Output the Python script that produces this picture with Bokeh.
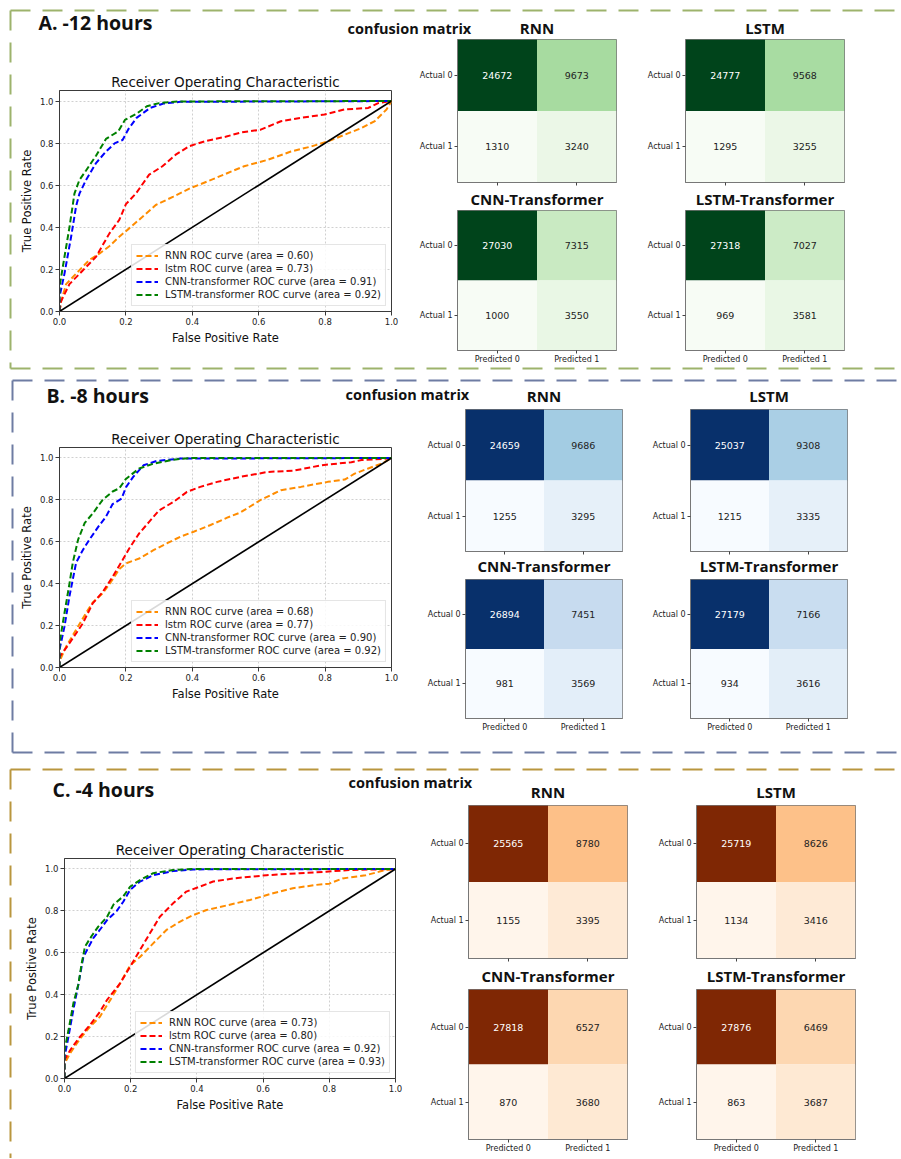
import numpy as np
from bokeh.plotting import figure
from bokeh.models import (Range1d, FactorRange, FixedTicker, PrintfTickFormatter,
                          GridBox, Column, ColumnDataSource, LinearColorMapper)
from bokeh.palettes import Greens9, Blues9, Oranges9
from bokeh.core.properties import value
from bokeh.embed import file_html
from bokeh.resources import INLINE

# ---------------------------------------------------------------- data
panel_keys = ["A", "B", "C"]
panel_titles = ["A. -12 hours", "B. -8 hours", "C. -4 hours"]
cm_header = "confusion matrix"
roc_title = "Receiver Operating Characteristic"
model_names = ["RNN", "lstm", "CNN-transformer", "LSTM-transformer"]
cm_titles = ["RNN", "LSTM", "CNN-Transformer", "LSTM-Transformer"]
pred_labels = ["Predicted 0", "Predicted 1"]
actual_labels = ["Actual 0", "Actual 1"]
tick_values = [0.0, 0.2, 0.4, 0.6, 0.8, 1.0]
diag = [0.0, 1.0]

auc_A = [0.60, 0.73, 0.91, 0.92]
auc_B = [0.68, 0.77, 0.90, 0.92]
auc_C = [0.73, 0.80, 0.92, 0.93]

# panel A (-12 h)
A_rnn_fpr = [0, 0.005, 0.02, 0.05, 0.09, 0.12, 0.15, 0.18, 0.21, 0.25, 0.29, 0.343, 0.394, 0.444, 0.505, 0.556, 0.626, 0.697, 0.758, 0.808, 0.859, 0.91, 0.95, 0.985, 1.0]
A_rnn_tpr = [0, 0.05, 0.13, 0.18, 0.245, 0.275, 0.31, 0.355, 0.395, 0.45, 0.506, 0.546, 0.586, 0.617, 0.657, 0.69, 0.72, 0.76, 0.784, 0.808, 0.84, 0.872, 0.905, 0.96, 1.0]
A_lstm_fpr = [0, 0.005, 0.03, 0.07, 0.11, 0.15, 0.18, 0.2, 0.23, 0.27, 0.31, 0.35, 0.39, 0.44, 0.5, 0.545, 0.606, 0.667, 0.727, 0.798, 0.859, 0.93, 0.96, 1.0]
A_lstm_tpr = [0, 0.05, 0.13, 0.195, 0.26, 0.37, 0.435, 0.51, 0.56, 0.65, 0.69, 0.745, 0.785, 0.81, 0.83, 0.85, 0.864, 0.904, 0.92, 0.936, 0.96, 0.967, 0.99, 1.0]
A_cnnt_fpr = [0, 0, 0.015, 0.035, 0.05, 0.06, 0.08, 0.11, 0.14, 0.167, 0.19, 0.207, 0.232, 0.273, 0.313, 0.364, 1.0]
A_cnnt_tpr = [0, 0.07, 0.18, 0.355, 0.50, 0.56, 0.625, 0.705, 0.76, 0.80, 0.815, 0.865, 0.92, 0.967, 0.988, 0.996, 1.0]
A_lstmt_fpr = [0, 0, 0.015, 0.03, 0.045, 0.06, 0.08, 0.11, 0.14, 0.177, 0.197, 0.232, 0.263, 0.30, 0.36, 1.0]
A_lstmt_tpr = [0, 0.116, 0.26, 0.40, 0.56, 0.625, 0.67, 0.74, 0.82, 0.856, 0.91, 0.94, 0.975, 0.99, 0.998, 1.0]

# panel B (-8 h)
B_rnn_fpr = [0, 0, 0.02, 0.05, 0.08, 0.1, 0.13, 0.16, 0.18, 0.2, 0.24, 0.283, 0.323, 0.364, 0.404, 0.455, 0.505, 0.545, 0.606, 0.667, 0.727, 0.808, 0.859, 0.889, 0.93, 0.97, 1.0]
B_rnn_tpr = [0, 0.03, 0.1, 0.18, 0.26, 0.31, 0.354, 0.42, 0.47, 0.497, 0.52, 0.56, 0.592, 0.624, 0.648, 0.68, 0.715, 0.74, 0.80, 0.846, 0.862, 0.886, 0.897, 0.925, 0.95, 0.973, 1.0]
B_lstm_fpr = [0, 0, 0.03, 0.07, 0.1, 0.13, 0.16, 0.19, 0.21, 0.24, 0.27, 0.3, 0.343, 0.384, 0.424, 0.475, 0.545, 0.626, 0.707, 0.788, 0.879, 0.91, 0.99, 1.0]
B_lstm_tpr = [0, 0.05, 0.116, 0.21, 0.306, 0.36, 0.433, 0.513, 0.568, 0.64, 0.695, 0.75, 0.79, 0.838, 0.862, 0.886, 0.91, 0.933, 0.94, 0.965, 0.98, 0.99, 0.997, 1.0]
B_cnnt_fpr = [0, 0, 0.015, 0.03, 0.05, 0.07, 0.09, 0.116, 0.14, 0.16, 0.187, 0.2, 0.222, 0.253, 0.293, 0.364, 1.0]
B_cnnt_tpr = [0, 0.085, 0.195, 0.34, 0.50, 0.56, 0.61, 0.67, 0.72, 0.78, 0.806, 0.86, 0.91, 0.965, 0.986, 0.997, 1.0]
B_lstmt_fpr = [0, 0, 0.015, 0.03, 0.04, 0.056, 0.076, 0.1, 0.13, 0.16, 0.18, 0.2, 0.24, 0.283, 0.343, 0.4, 1.0]
B_lstmt_tpr = [0, 0.116, 0.26, 0.40, 0.50, 0.61, 0.69, 0.735, 0.80, 0.84, 0.855, 0.9, 0.95, 0.973, 0.992, 1.0, 1.0]

# panel C (-4 h)
C_rnn_fpr = [0, 0, 0.017, 0.047, 0.077, 0.107, 0.138, 0.168, 0.198, 0.228, 0.268, 0.308, 0.348, 0.389, 0.429, 0.49, 0.56, 0.63, 0.69, 0.76, 0.8, 0.84, 0.91, 0.97, 1.0]
C_rnn_tpr = [0, 0.07, 0.12, 0.19, 0.247, 0.295, 0.374, 0.454, 0.54, 0.58, 0.645, 0.709, 0.748, 0.78, 0.804, 0.826, 0.852, 0.884, 0.908, 0.924, 0.93, 0.955, 0.97, 0.995, 1.0]
C_lstm_fpr = [0, 0, 0.017, 0.047, 0.077, 0.107, 0.128, 0.168, 0.198, 0.228, 0.258, 0.288, 0.328, 0.368, 0.409, 0.449, 0.51, 0.61, 0.71, 0.79, 0.86, 1.0]
C_lstm_tpr = [0, 0.088, 0.135, 0.2, 0.255, 0.318, 0.374, 0.454, 0.533, 0.613, 0.693, 0.772, 0.836, 0.892, 0.916, 0.94, 0.955, 0.97, 0.98, 0.987, 0.995, 1.0]
C_cnnt_fpr = [0, 0, 0.012, 0.027, 0.042, 0.057, 0.067, 0.087, 0.107, 0.128, 0.158, 0.178, 0.198, 0.228, 0.268, 0.328, 0.389, 1.0]
C_cnnt_tpr = [0, 0.1, 0.2, 0.33, 0.45, 0.58, 0.61, 0.67, 0.71, 0.755, 0.80, 0.845, 0.9, 0.94, 0.97, 0.99, 0.998, 1.0]
C_lstmt_fpr = [0, 0, 0.012, 0.027, 0.042, 0.052, 0.062, 0.082, 0.102, 0.128, 0.148, 0.178, 0.198, 0.228, 0.268, 0.328, 0.389, 1.0]
C_lstmt_tpr = [0, 0.135, 0.23, 0.36, 0.45, 0.55, 0.63, 0.68, 0.725, 0.77, 0.83, 0.87, 0.915, 0.947, 0.98, 0.995, 1.0, 1.0]

# confusion matrices: [TN, FP, FN, TP] for RNN, LSTM, CNN-Transformer, LSTM-Transformer
cm_A = [[24672, 9673, 1310, 3240], [24777, 9568, 1295, 3255],
        [27030, 7315, 1000, 3550], [27318, 7027, 969, 3581]]
cm_B = [[24659, 9686, 1255, 3295], [25037, 9308, 1215, 3335],
        [26894, 7451, 981, 3569], [27179, 7166, 934, 3616]]
cm_C = [[25565, 8780, 1155, 3395], [25719, 8626, 1134, 3416],
        [27818, 6527, 870, 3680], [27876, 6469, 863, 3687]]

roc_data = {
    "A": [(A_rnn_fpr, A_rnn_tpr), (A_lstm_fpr, A_lstm_tpr), (A_cnnt_fpr, A_cnnt_tpr), (A_lstmt_fpr, A_lstmt_tpr)],
    "B": [(B_rnn_fpr, B_rnn_tpr), (B_lstm_fpr, B_lstm_tpr), (B_cnnt_fpr, B_cnnt_tpr), (B_lstmt_fpr, B_lstmt_tpr)],
    "C": [(C_rnn_fpr, C_rnn_tpr), (C_lstm_fpr, C_lstm_tpr), (C_cnnt_fpr, C_cnnt_tpr), (C_lstmt_fpr, C_lstmt_tpr)],
}
auc_data = {"A": auc_A, "B": auc_B, "C": auc_C}
cm_data = {"A": cm_A, "B": cm_B, "C": cm_C}

# ---------------------------------------------------------------- styling / layout
curve_colors = ["#ff8c00", "#ff0000", "#0000ff", "#008000"]
panel_colors = {"A": "#9db36c", "B": "#6e7ca3", "C": "#b9963e"}


def ramp(p9):
    cols = list(p9)
    lum = [int(c[1:3], 16) + int(c[3:5], 16) + int(c[5:7], 16) for c in cols]
    if lum[0] < lum[-1]:
        cols = cols[::-1]
    rgb = np.array([[int(c[i:i + 2], 16) for i in (1, 3, 5)] for c in cols], float)
    t9 = np.linspace(0, 1, len(cols))
    t = np.linspace(0, 1, 256)
    out = []
    for tt in t:
        r, g, b = (np.interp(tt, t9, rgb[:, k]) for k in range(3))
        out.append("#%02x%02x%02x" % (int(round(r)), int(round(g)), int(round(b))))
    return out


cmaps = {"A": ramp(Greens9), "B": ramp(Blues9), "C": ramp(Oranges9)}

layout_spec = {
    "A": dict(border=(10, 10, 368), head=(38, 22, 347, 27.5), roc=(59, 90, 332, 221), roc_gap=9,
              cm_x=(457, 685), cm_w=159, cm_y=(39, 210), cm_h=143, cm_gap=13,
              toff=(4, 13, -5, -3)),
    "B": dict(border=(380, 12, 752), head=(46, 395, 345, 393.5), roc=(59, 447, 332, 220), roc_gap=10,
              cm_x=(465, 690), cm_w=157, cm_y=(409, 579), cm_h=142, cm_gap=16.5,
              toff=(-1, 8, -4, 8)),
    "C": dict(border=(769, 10, None), head=(52, 789, 348, 782), roc=(64, 858, 331, 220), roc_gap=10,
              cm_x=(468, 696), cm_w=159, cm_y=(805, 989), cm_h=153, cm_gap=16.5,
              toff=(-4, -6, -17, -1)),
}

MAT = "DejaVu Sans"
BOLD = "Open Sans"
ORIGIN = 0  # page offset of the shared layout cell


def place(fig, left, top):
    """wrap a figure so that it sits at page position (left, top) inside the shared cell"""
    return Column(children=[fig], margin=(top - ORIGIN, 0, 0, left - ORIGIN))


# ---------------------------------------------------------------- background
BG_W, BG_H = 900, 1158
bg = figure(width=BG_W, height=BG_H, x_range=Range1d(0, BG_W), y_range=Range1d(BG_H, 0),
            x_axis_type=None, y_axis_type=None, toolbar_location=None, output_backend="svg",
            min_border_left=0, min_border_right=0, min_border_top=0, min_border_bottom=0)
bg.grid.visible = False
bg.outline_line_color = None
bg.border_fill_color = "white"
bg.background_fill_color = "white"

for key, ptitle in zip(panel_keys, panel_titles):
    sp = layout_spec[key]
    top, left, bottom = sp["border"]
    col = panel_colors[key]
    bg.line([left, 905], [top, top], line_color=col, line_width=2, line_dash="20 12")
    ybot = bottom if bottom is not None else 1165
    bg.line([left, left], [top, ybot], line_color=col, line_width=2, line_dash="20 12")
    if bottom is not None:
        bg.line([left, 905], [bottom, bottom], line_color=col, line_width=2, line_dash="20 12")
    hx, hy, cx, cy = sp["head"]
    bg.text(x=[hx], y=[hy], text=[ptitle], text_font=value(BOLD), text_font_style="bold",
            text_font_size="19.5px", text_baseline="middle", text_align="left", text_color="#111111")
    bg.text(x=[cx], y=[cy], text=[cm_header], text_font=value(BOLD), text_font_style="bold",
            text_font_size="14.5px", text_baseline="middle", text_align="left", text_color="#111111")


# ---------------------------------------------------------------- ROC plots
def make_roc(key):
    sp = layout_spec[key]
    fx0, fy0, fw, fh = sp["roc"]
    L, T, R, B = 48, 34, 12, 42
    p = figure(width=L + fw + R, height=T + fh + B, x_range=Range1d(0, 1), y_range=Range1d(0, 1.05),
               min_border_left=L, min_border_right=R, min_border_top=T, min_border_bottom=B,
               output_backend="svg", toolbar_location=None, title=roc_title)
    p.border_fill_color = None
    p.background_fill_color = "white"
    p.outline_line_color = "#3a3a3a"
    p.outline_line_width = 1
    p.title.text_font = MAT
    p.title.text_font_style = "normal"
    p.title.text_font_size = "13.5px"
    p.title.align = "center"
    p.title.text_color = "#111111"
    if "standoff" in p.title.properties():
        p.title.standoff = max(0, sp["roc_gap"] - 8)
    for ax in (p.xaxis[0], p.yaxis[0]):
        ax.ticker = FixedTicker(ticks=tick_values)
        ax.formatter = PrintfTickFormatter(format="%.1f")
        ax.major_tick_out = 4
        ax.major_tick_in = 0
        ax.minor_tick_line_color = None
        ax.axis_line_color = "#3a3a3a"
        ax.major_tick_line_color = "#3a3a3a"
        ax.major_label_text_font = MAT
        ax.major_label_text_font_size = "8.5px"
        ax.major_label_text_color = "#222222"
        ax.axis_label_text_font = MAT
        ax.axis_label_text_font_size = "11.5px"
        ax.axis_label_text_font_style = "normal"
        ax.axis_label_text_color = "#111111"
    p.xaxis.axis_label = "False Positive Rate"
    p.yaxis.axis_label = "True Positive Rate"
    p.xaxis.major_label_standoff = 2
    p.xaxis.axis_label_standoff = 3
    p.yaxis.major_label_standoff = 2
    p.yaxis.axis_label_standoff = 3
    p.grid.grid_line_color = "#c4c4c4"
    p.grid.grid_line_dash = "2 2"
    p.grid.grid_line_width = 0.8

    for i, (fpr, tpr) in enumerate(roc_data[key]):
        p.line(fpr, tpr, line_color=curve_colors[i], line_width=2, line_dash="6 3",
               legend_label=f"{model_names[i]} ROC curve (area = {auc_data[key][i]:.2f})")
    p.line(diag, diag, line_color="black", line_width=1.6)

    lg = p.legend[0]
    lg.location = "bottom_right"
    lg.margin = 5
    lg.padding = 4
    lg.spacing = 0
    lg.glyph_width = 22
    lg.glyph_height = 13
    lg.label_height = 13
    lg.label_standoff = 7
    lg.label_text_font = MAT
    lg.label_text_font_size = "10px"
    lg.label_text_color = "#222222"
    lg.border_line_color = "#cccccc"
    lg.border_line_width = 1
    lg.background_fill_color = "white"
    lg.background_fill_alpha = 0.85
    return place(p, fx0 - L, fy0 - T)


# ---------------------------------------------------------------- confusion matrices
def make_cm(key, idx):
    sp = layout_spec[key]
    vals = cm_data[key][idx]
    fx0 = sp["cm_x"][idx % 2]
    fy0 = sp["cm_y"][idx // 2]
    fw, fh = sp["cm_w"], sp["cm_h"]
    show_x = idx >= 2
    L, T, R, B = 56, 32, 6, (13 if show_x else 8)
    p = figure(width=L + fw + R, height=T + fh + B,
               x_range=FactorRange(factors=pred_labels),
               y_range=FactorRange(factors=actual_labels[::-1]),
               min_border_left=L, min_border_right=R, min_border_top=T, min_border_bottom=B,
               output_backend="svg", toolbar_location=None, title=cm_titles[idx])
    p.border_fill_color = None
    p.outline_line_color = "#777777"
    p.grid.visible = False
    p.title.text_font = BOLD
    p.title.text_font_style = "bold"
    p.title.text_font_size = "15px"
    p.title.align = "center"
    p.title.offset = sp["toff"][idx]
    p.title.text_color = "#111111"
    if "standoff" in p.title.properties():
        p.title.standoff = max(0, sp["cm_gap"] - 9)

    xs = [pred_labels[0], pred_labels[1], pred_labels[0], pred_labels[1]]
    ys = [actual_labels[0], actual_labels[0], actual_labels[1], actual_labels[1]]
    vmax = max(vals)
    src = ColumnDataSource(dict(x=xs, y=ys, v=vals, t=[str(v) for v in vals],
                                tc=["white" if v > vmax / 2 else "#222222" for v in vals]))
    mapper = LinearColorMapper(palette=cmaps[key], low=min(vals), high=vmax)
    p.rect(x="x", y="y", width=1, height=1, source=src,
           fill_color={"field": "v", "transform": mapper}, line_color=None)
    p.text(x="x", y="y", text="t", source=src, text_align="center", text_baseline="middle",
           text_color="tc", text_font=value(MAT), text_font_size="9.5px")

    for ax in (p.xaxis[0], p.yaxis[0]):
        ax.major_tick_out = 3
        ax.major_tick_in = 0
        ax.axis_line_color = "#777777"
        ax.major_tick_line_color = "#444444"
        ax.major_label_text_font = MAT
        ax.major_label_text_font_size = "8px"
        ax.major_label_text_color = "#222222"
        ax.major_label_standoff = 2
    p.yaxis.major_label_orientation = "horizontal"
    p.xaxis.major_label_standoff = 1
    if not show_x:
        p.xaxis.major_label_text_color = None
    return place(p, fx0 - L, fy0 - T)


items = [place(bg, 0, 0)]
for key in panel_keys:
    items.append(make_roc(key))
    for idx in range(4):
        items.append(make_cm(key, idx))

page = GridBox(children=[(it, 0, 0) for it in items])

open("out.html", "w").write(file_html(page, INLINE, title="ROC and confusion matrices"))
